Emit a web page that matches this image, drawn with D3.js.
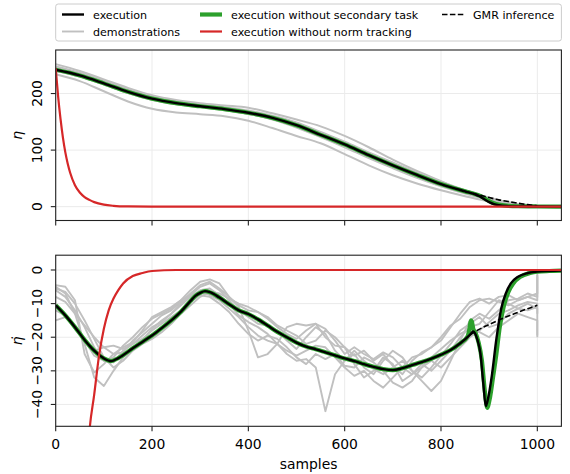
<!DOCTYPE html>
<html><head><meta charset="utf-8">
<script src="https://cdn.jsdelivr.net/npm/d3@7"></script>
<style>
body{margin:0;background:#fff}
svg{display:block}
text{font-family:"DejaVu Sans",sans-serif;fill:#000}
</style>
</head><body>
<svg id="c" width="570" height="474"></svg>
<script>
// ---------------- data ----------------
const xTicks = [0, 200, 400, 600, 800, 1000];
const topTicks = [0, 100, 200];
const botTicks = [-40, -30, -20, -10, 0];

const legendItems = ["execution", "demonstrations", "execution without secondary task",
  "execution without norm tracking", "GMR inference"];

// top panel: eta
const demoTopS = [0,50,100,150,200,250,300,350,400,450,500,550,600,650,700,750,800,850,900,950,1000];
const demoTop1 = [234,222,204,186,173,166.5,163.5,160,152,139,125,112,93,73,55.5,41,29,18.5,9,3,1];
const demoTop2 = [252,240,225,210,197,188.5,183,179,175,165,154,142,125,105,83,63,45,27.5,14,5,1.5];
const demoTop3 = [246,235,221,206,193,185,179,174,168,159,146,130,113,94,76,58,42,28,16,6,1.5];
const demoTop4 = [244,234,220,204,192,184,178,173,167,158,145,128,111,93,75,57,41,27,15,5.5,1];
const demoTop5 = [240,230,216,201,189,181,176,171,164,155,141,124,107,88,70,53,38,25,13,5,1];
const demoTop6 = [248,237,223,208,195,187,181,176,170,161,149,132,115,96,78,60,44,29,16,6,1.5];
const demoTop7 = [243,233,219,204,191,183,177,171,164,154,140,123,105,86,68,51,36,23,12,4.5,1];

const execTopS = [0,50,100,150,200,250,300,350,400,450,500,550,600,650,700,750,800,850,870,880,890,900,910,920,940,960,1000,1050];
const execTop  = [242,232,218,203,191,183,177.5,172.5,166,157,144,127,110,91,73,56,40,27,22,18.5,13,8,4.5,2.5,1,0.5,0.2,0];
const greenTop = [242,232,218,203,191,183,177.5,172.5,166,157,144,127,110,91,73,56,40,27,22.5,19.5,15,10,6,3.5,1.5,0.7,0.3,0];

const gmrTopS = [850,880,900,920,940,960,980,1000];
const gmrTop  = [27,20.5,16,12,9,6,3.5,1.5];

const redTopS = [0,5,10,15,20,25,30,40,50,60,70,80,100,120,150,200,1050];
const redTop  = [245,195,155,122,96,76,60,38,25,17,12,8,3.5,1.5,0.4,0,0];

// bottom panel: eta dot
const demoBotS = [0,20,40,60,80,100,120,140,160,180,200,220,240,260,280,300,320,340,360,380,400,420,440,460,480,500,520,540,560,580,600,620,640,660,680,700,720,740,760,780,800,820,840,860,880,900,920,940,960,980,1000,1000];
const demoBot1 = [-5,-7,-13,-22,-32,-34.5,-30,-26,-23.5,-21,-17.5,-15,-13,-10,-7.5,-5,-4,-6,-9,-12,-14,-16,-16.5,-18,-21,-23.5,-20,-17,-19,-24,-27,-25,-29,-31,-27,-24,-26,-30,-33,-36,-33,-27,-21,-15,-13,-14.5,-12,-9,-8.5,-7,-8,-1.5];
const demoBot2 = [-4.5,-5,-9,-25,-30.5,-28,-25,-23,-21.5,-18,-14,-12.5,-11,-9,-6,-3.5,-2.8,-4,-8,-11,-18,-26,-25,-22,-17,-16,-16.5,-16,-20,-22.5,-23,-28,-32,-30,-26,-28,-33,-31,-28,-30,-27,-24,-20,-17,-16,-12.5,-9,-10,-11.5,-12,-11,-19.5];
const demoBot3 = [-6,-8,-12,-17,-23,-27,-27.5,-24,-22,-19.5,-17,-15.5,-13,-10.5,-8,-6,-5.5,-7.5,-10,-13.5,-15.5,-17,-19,-22,-25,-27,-26.5,-29,-42,-31,-27,-24,-27,-29.5,-31,-29,-27,-30,-32,-29,-25.5,-22,-18,-16,-14,-17,-16,-13,-11.5,-10,-11.5,-13];
const demoBot4 = [-8,-9.5,-13,-16.5,-20,-23,-25,-24.5,-21,-18.5,-16,-13.5,-12,-9.5,-7,-4.5,-3.5,-5.5,-8,-10.5,-12,-12.5,-14,-16.5,-18,-19.5,-22,-21,-18,-20,-23,-25.5,-24,-27,-25,-28.5,-31,-27,-24.5,-23,-21,-17,-13,-9.5,-8.5,-10,-8,-7.5,-9,-8,-7,-1];
const demoBot5 = [-12,-13.5,-17.5,-21,-25.5,-27,-26,-22.5,-20,-17,-14.5,-13,-11.5,-9,-7.5,-6.5,-7.5,-9,-11.5,-14,-17,-19.5,-21,-22,-24,-25.5,-24,-22.5,-23,-26,-29,-31.5,-30,-33,-35,-32,-29,-31,-29,-27,-29,-26,-23,-20,-18,-15.5,-13,-12,-10.5,-9.5,-10,-11];
const demoBot6 = [-15,-14,-17,-21,-24,-23,-22.5,-23.5,-22,-20.5,-18,-16,-14,-12,-9.5,-7.5,-8,-10,-12.5,-16,-19,-21,-19.5,-20.5,-23,-26,-28,-25,-26.5,-25,-28.5,-29,-26,-27.5,-30,-33.5,-35,-33,-29,-26,-23.5,-21,-19,-17.5,-18.5,-20,-17,-15,-13,-14,-15,-20];
const demoBot7 = [-5.5,-6.5,-10,-15,-20.5,-26,-29,-27,-24,-22,-20.5,-18.5,-16,-13,-10.5,-8,-6.5,-7,-8.5,-10,-11,-12.5,-14.5,-17,-19,-20.5,-18,-16,-17.5,-21,-25,-23,-25,-26.5,-24.5,-26,-29,-26,-25,-23,-20,-16.5,-14.5,-11,-9,-8.5,-9.5,-10.5,-9,-8,-9,-2];

const execBotS = [0,20,40,60,80,100,115,130,160,180,200,220,240,260,280,290,300,310,320,340,360,380,400,420,440,460,480,500,520,540,560,580,600,620,640,660,680,700,720,740,760,780,800,820,840,860,867,875,882,888,893,898,905,915,925,935,945,960,980,1000,1025,1050];
const execBot  = [-10.5,-13.5,-17,-20.8,-24,-26.3,-27.1,-26.2,-23.3,-21.4,-19.5,-17.3,-15,-12.4,-9.2,-7.7,-6.8,-6.3,-6.6,-8.2,-10.2,-12,-13.1,-14.7,-16.5,-18.4,-20,-21.6,-22.8,-23.6,-24.5,-25.4,-26.3,-27.1,-28,-28.8,-29.5,-29.8,-29.2,-28.3,-27.4,-26.4,-25.2,-23.8,-21.8,-19.3,-18.3,-20.5,-25,-34,-40.5,-38,-32,-20.5,-11.5,-6.8,-4,-2,-0.9,-0.5,-0.3,-0.2];

const greenBotS = [0,20,40,60,80,100,115,130,160,180,200,220,240,260,280,290,300,310,320,340,360,380,400,420,440,460,480,500,520,540,560,580,600,620,640,660,680,700,720,740,760,780,800,820,840,855,859,862,864,867,872,878,885,891,896,901,908,915,922,930,940,950,965,985,1000,1025,1050];
const greenBot  = [-10.5,-13.5,-17,-20.8,-24,-26.3,-27.1,-26.2,-23.3,-21.4,-19.5,-17.3,-15,-12.4,-9.2,-7.7,-6.8,-6.3,-6.6,-8.2,-10.2,-12,-13.1,-14.7,-16.5,-18.4,-20,-21.6,-22.8,-23.6,-24.5,-25.4,-26.3,-27.1,-28,-28.8,-29.5,-29.8,-29.2,-28.3,-27.4,-26.4,-25.2,-23.8,-21.8,-19.8,-17.5,-15,-15.3,-17.5,-18.8,-21.5,-27,-36,-41,-38.5,-32,-25,-17,-11,-6.5,-4,-2,-0.9,-0.5,-0.3,-0.2];

const gmrBotS = [860,880,900,920,940,960,980,1000];
const gmrBot  = [-19.3,-17.6,-16.2,-14.9,-13.7,-12.6,-11.5,-10.5];

const redBotS = [40,50,60,70,80,90,100,110,120,130,140,160,180,200,250,1050];
const redBot  = [-160,-105,-70,-48,-37,-25.5,-17.5,-12,-8.5,-6,-4,-1.8,-0.9,-0.3,0,0];

// ---------------- layout ----------------
const svg = d3.select("#c");
const L = 55.7, R = 561.4;
const x = d3.scaleLinear().domain([0, 1050]).range([L, R]);
const yT = d3.scaleLinear().domain([-24.5, 277]).range([220.5, 50]);
const yB = d3.scaleLinear().domain([-46.5, 4.4]).range([426.3, 255.2]);

const GRAY = "#c0c0c0", GREEN = "#2ca02c", RED = "#d62728";
const fmt = v => (v < 0 ? "\u2212" + Math.abs(v) : "" + v);

function panel(id, y, yTicks, showXLabels) {
  const g = svg.append("g");
  const [y0, y1] = y.range();
  svg.append("clipPath").attr("id", id).append("rect")
    .attr("x", L).attr("y", y1).attr("width", R - L).attr("height", y0 - y1);
  g.selectAll(".gx").data(xTicks).join("line")
    .attr("x1", d => x(d)).attr("x2", d => x(d)).attr("y1", y1).attr("y2", y0)
    .attr("stroke", "#ebebeb").attr("stroke-width", 1);
  g.selectAll(".gy").data(yTicks).join("line")
    .attr("x1", L).attr("x2", R).attr("y1", d => y(d)).attr("y2", d => y(d))
    .attr("stroke", "#ebebeb").attr("stroke-width", 1);
  const plot = g.append("g").attr("clip-path", `url(#${id})`);
  g.append("rect").attr("x", L).attr("y", y1).attr("width", R - L).attr("height", y0 - y1)
    .attr("fill", "none").attr("stroke", "#222").attr("stroke-width", 1.1);
  g.selectAll(".tx").data(xTicks).join("line")
    .attr("x1", d => x(d)).attr("x2", d => x(d)).attr("y1", y0).attr("y2", y0 + 4.9)
    .attr("stroke", "#222").attr("stroke-width", 1.1);
  g.selectAll(".ty").data(yTicks).join("line")
    .attr("x1", L - 4.9).attr("x2", L).attr("y1", d => y(d)).attr("y2", d => y(d))
    .attr("stroke", "#222").attr("stroke-width", 1.1);
  g.selectAll(".tyl").data(yTicks).join("text")
    .attr("transform", d => `translate(42.4,${y(d)}) rotate(-90)`)
    .attr("text-anchor", "middle").attr("font-size", 13.9).text(fmt);
  if (showXLabels) {
    g.selectAll(".txl").data(xTicks).join("text")
      .attr("x", d => x(d)).attr("y", 449).attr("text-anchor", "middle")
      .attr("font-size", 13.9).text(d => d);
  }
  return plot;
}

function line(plot, xs, ys, y, color, w, curve, dash) {
  const gen = d3.line().x((d, i) => x(xs[i])).y(d => y(d)).curve(curve || d3.curveMonotoneX);
  const p = plot.append("path").attr("d", gen(ys)).attr("fill", "none")
    .attr("stroke", color).attr("stroke-width", w)
    .attr("stroke-linejoin", "round").attr("stroke-linecap", "butt");
  if (dash) p.attr("stroke-dasharray", dash);
  return p;
}

// top panel
const pT = panel("clipT", yT, topTicks, false);
[demoTop1, demoTop2, demoTop3, demoTop4, demoTop5, demoTop6, demoTop7]
  .forEach(d => line(pT, demoTopS, d, yT, GRAY, 2));
line(pT, execTopS, greenTop, yT, GREEN, 4.2);
line(pT, execTopS, execTop, yT, "#000", 2.4);
line(pT, gmrTopS, gmrTop, yT, "#000", 1.6, null, "5.5,2.4");
line(pT, redTopS, redTop, yT, RED, 2.2);

// bottom panel
const pB = panel("clipB", yB, botTicks, true);
[demoBot1, demoBot2, demoBot3, demoBot4, demoBot5, demoBot6, demoBot7]
  .forEach(d => line(pB, demoBotS, d, yB, GRAY, 1.9, d3.curveLinear));
line(pB, greenBotS, greenBot, yB, GREEN, 4.2);
line(pB, execBotS, execBot, yB, "#000", 2.4);
line(pB, gmrBotS, gmrBot, yB, "#000", 1.6, null, "5.5,2.4");
line(pB, redBotS, redBot, yB, RED, 2.2);

// axis labels
svg.append("text").attr("transform", `translate(22,${(yT.range()[0] + yT.range()[1]) / 2}) rotate(-90)`)
  .attr("text-anchor", "middle").attr("font-size", 13.9).attr("font-style", "italic").text("\u03b7");
svg.append("text").attr("transform", `translate(22,${(yB.range()[0] + yB.range()[1]) / 2}) rotate(-90)`)
  .attr("text-anchor", "middle").attr("font-size", 13.9).attr("font-style", "italic").text("\u03b7\u0307");
svg.append("text").attr("x", (L + R) / 2).attr("y", 469).attr("text-anchor", "middle")
  .attr("font-size", 13.9).text("samples");

// legend
const lg = svg.append("g");
lg.append("rect").attr("x", L).attr("y", 4).attr("width", R - L).attr("height", 37)
  .attr("rx", 2.5).attr("fill", "#fff").attr("fill-opacity", 0.8)
  .attr("stroke", "#cccccc").attr("stroke-width", 1);
const legPos = [[62, 14.5], [62, 31.5], [200, 14.5], [200, 31.5], [442, 14.5]];
const legStyle = [
  {c: "#000", w: 2.4}, {c: GRAY, w: 1.9}, {c: GREEN, w: 4.2}, {c: RED, w: 2.2},
  {c: "#000", w: 1.6, dash: "5.5,2.4"}];
legendItems.forEach((t, i) => {
  const [lx, ly] = legPos[i], s = legStyle[i];
  const ln = lg.append("line").attr("x1", lx).attr("x2", lx + 22).attr("y1", ly).attr("y2", ly)
    .attr("stroke", s.c).attr("stroke-width", s.w);
  if (s.dash) ln.attr("stroke-dasharray", s.dash);
  lg.append("text").attr("x", lx + 31).attr("y", ly + 4).attr("font-size", 11.1).text(t);
});
</script>
</body></html>
